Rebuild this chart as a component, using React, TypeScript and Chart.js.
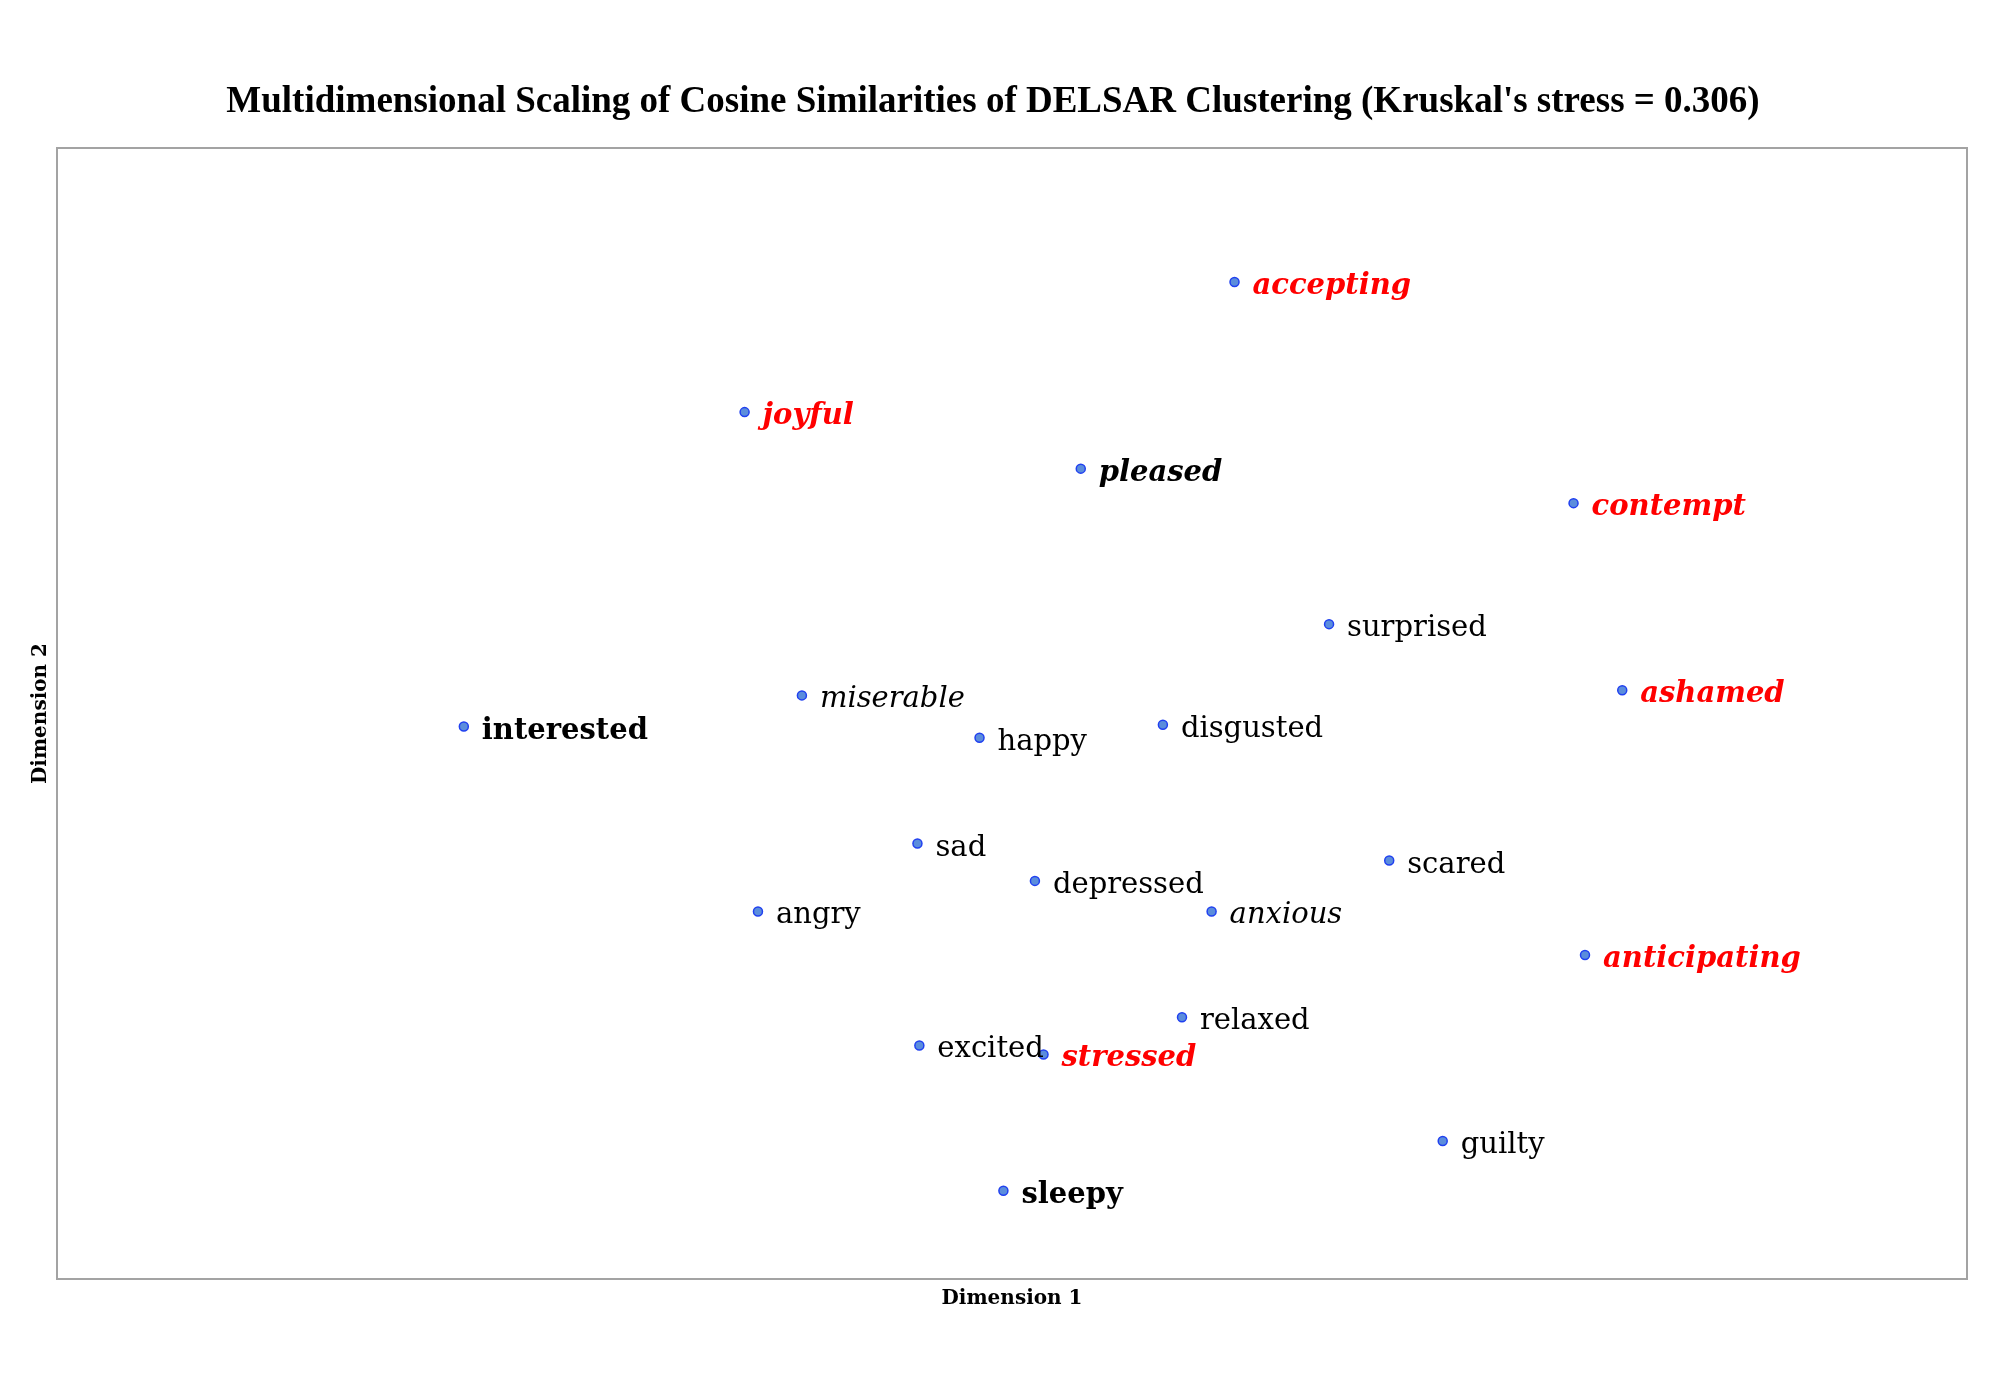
import React, { useEffect, useRef } from "react";
import { Chart, registerables } from "chart.js";

Chart.register(...registerables);

const TITLE = "Multidimensional Scaling of Cosine Similarities of DELSAR Clustering (Kruskal's stress = 0.306)";
const X_TITLE = "Dimension 1";
const Y_TITLE = "Dimension 2";

const words = [
  "accepting", "joyful", "pleased", "contempt", "surprised", "ashamed", "miserable",
  "interested", "happy", "disgusted", "sad", "scared", "depressed", "angry", "anxious",
  "anticipating", "relaxed", "excited", "stressed", "guilty", "sleepy",
];
const dim1 = [
  0.233, -0.280, 0.072, 0.588, 0.332, 0.639, -0.220,
  -0.574, -0.034, 0.158, -0.099, 0.395, 0.024, -0.266, 0.209,
  0.600, 0.178, -0.097, 0.033, 0.451, -0.009,
];
const dim2 = [
  0.763, 0.533, 0.433, 0.372, 0.158, 0.041, 0.032,
  -0.023, -0.043, -0.020, -0.230, -0.260, -0.296, -0.350, -0.350,
  -0.427, -0.537, -0.587, -0.603, -0.756, -0.844,
];
// b = bold, i = italic, r = red
const wordStyles = [
  "bir", "bir", "bi", "bir", "", "bir", "i",
  "b", "", "", "", "", "", "", "i",
  "bir", "", "", "bir", "", "b",
];

const LABEL_FONT = "'DejaVu Serif', serif";
const TITLE_FONT = "'Liberation Serif', serif";

const decorPlugin = {
  id: "decor",
  beforeDatasetsDraw(chart: any) {
    const { ctx, chartArea } = chart;
    ctx.save();
    ctx.strokeStyle = "#a3a3a3";
    ctx.lineWidth = 2;
    ctx.strokeRect(chartArea.left, chartArea.top, chartArea.right - chartArea.left, chartArea.bottom - chartArea.top);
    ctx.restore();
  },
  afterDatasetsDraw(chart: any) {
    const { ctx, chartArea } = chart;
    const meta = chart.getDatasetMeta(0);
    ctx.save();
    // point labels
    meta.data.forEach((pt: any, i: number) => {
      const st = wordStyles[i];
      const bold = st.includes("b") ? "bold " : "";
      const italic = st.includes("i") ? "italic " : "";
      ctx.font = `${italic}${bold}29px ${LABEL_FONT}`;
      ctx.fillStyle = st.includes("r") ? "#ff0000" : "#000000";
      ctx.textAlign = "left";
      ctx.textBaseline = "alphabetic";
      ctx.fillText(words[i], pt.x + 18, pt.y + 12);
    });
    // title
    ctx.fillStyle = "#000";
    ctx.textAlign = "center";
    ctx.font = `bold 37px ${TITLE_FONT}`;
    ctx.fillText(TITLE, 993, 112);
    // axis titles
    ctx.font = `bold 20px ${LABEL_FONT}`;
    ctx.fillText(X_TITLE, (chartArea.left + chartArea.right) / 2, 1304);
    ctx.save();
    ctx.translate(46, (chartArea.top + chartArea.bottom) / 2);
    ctx.rotate(-Math.PI / 2);
    ctx.fillText(Y_TITLE, 0, 0);
    ctx.restore();
    ctx.restore();
  },
};

export default function App() {
  const ref = useRef<HTMLCanvasElement>(null);
  useEffect(() => {
    if (!ref.current) return;
    const chart = new Chart(ref.current, {
      type: "scatter",
      data: {
        datasets: [
          {
            label: "words",
            data: words.map((w, i) => ({ x: dim1[i], y: dim2[i] })),
            pointRadius: 4.5,
            pointBorderWidth: 1.5,
            backgroundColor: "#5b8ddc",
            borderColor: "#2040f0",
          },
        ],
      },
      options: {
        responsive: false,
        animation: false,
        devicePixelRatio: 1,
        layout: { padding: { left: 57, top: 148, right: 33, bottom: 121 } },
        plugins: {
          legend: { display: false },
          title: { display: false },
          tooltip: { enabled: false },
        },
        scales: {
          x: { type: "linear", min: -1, max: 1, display: false },
          y: { type: "linear", min: -1, max: 1, display: false },
        },
      },
      plugins: [decorPlugin],
    });
    return () => chart.destroy();
  }, []);
  return (
    <div style={{ position: "fixed", left: 0, top: 0, width: 2000, height: 1400, background: "#fff" }}>
      <canvas ref={ref} width={2000} height={1400} style={{ width: 2000, height: 1400, display: "block" }} />
    </div>
  );
}
